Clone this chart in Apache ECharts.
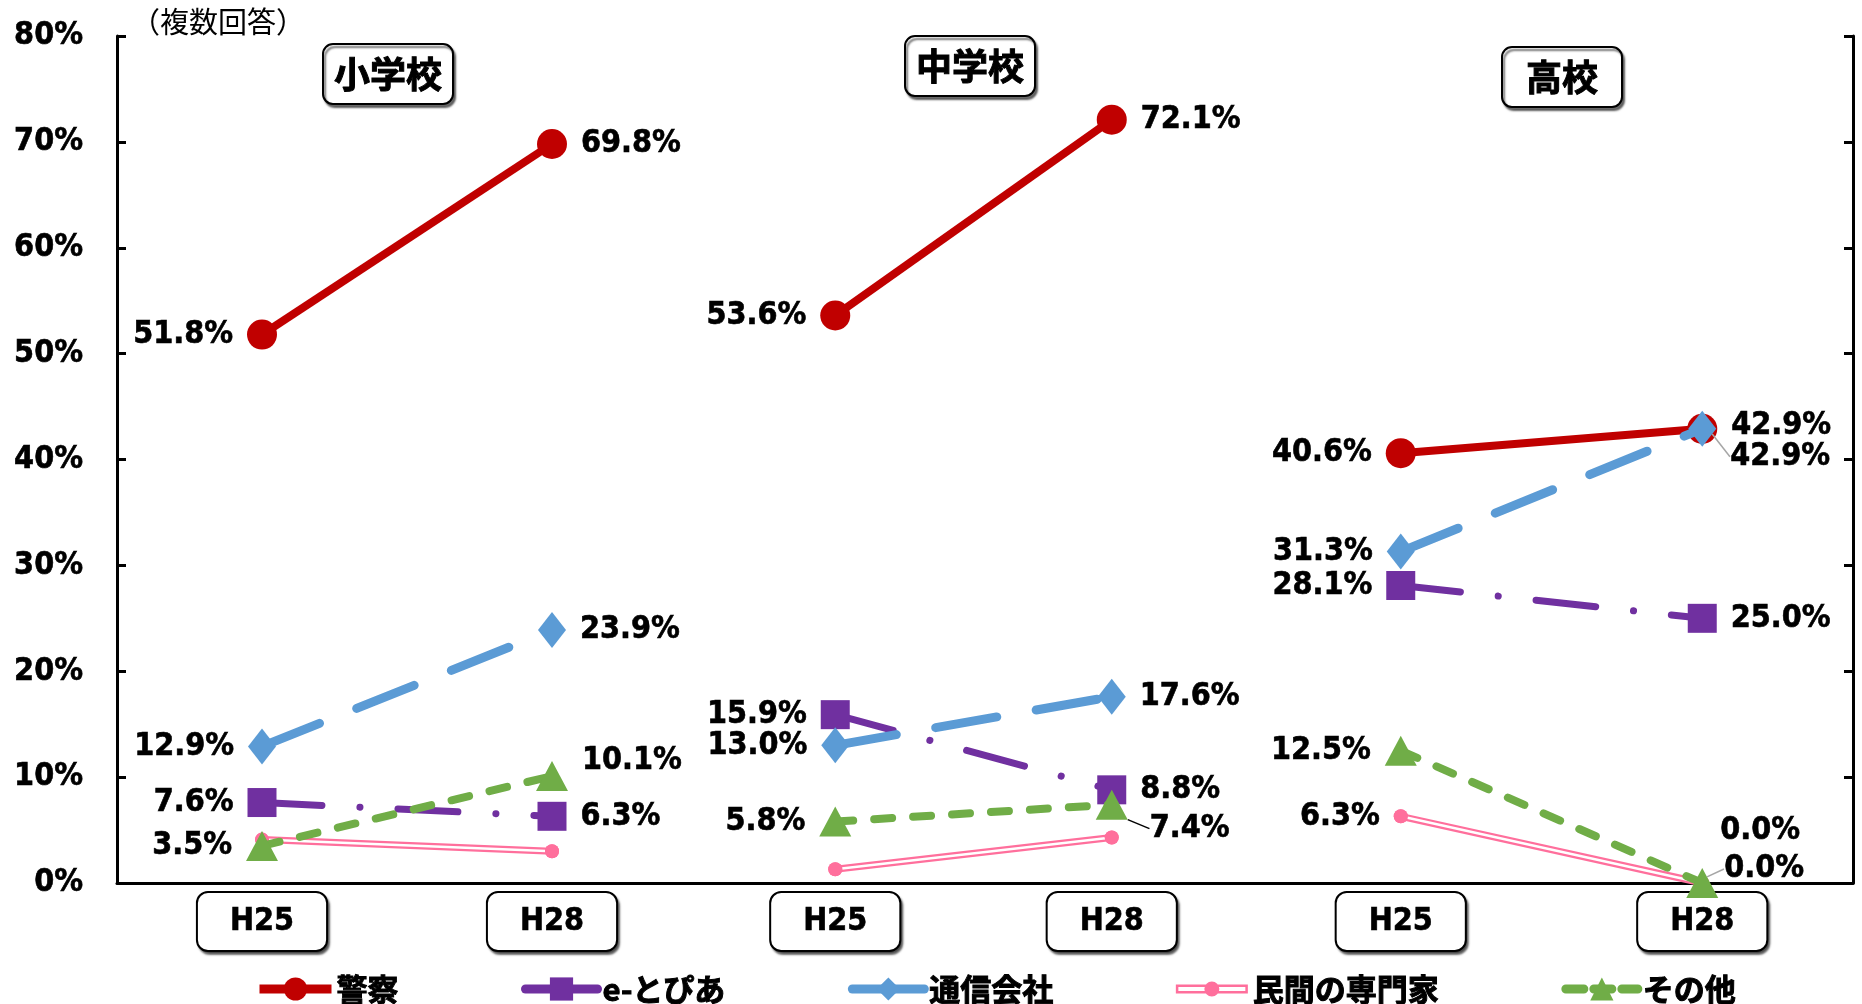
<!DOCTYPE html>
<html>
<head>
<meta charset="utf-8">
<script src="https://cdn.jsdelivr.net/npm/echarts@6/dist/echarts.min.js"></script>
<style>
  html, body { margin: 0; padding: 0; background: #fff; }
  #chart { width: 1862px; height: 1004px; }
</style>
</head>
<body>
<div id="chart"></div>
<script>
// データ（単位：%）
const categories = ['H25', 'H28'];
const schools = ['小学校', '中学校', '高校'];
const seriesNames = ['警察', 'e-とぴあ', '通信会社', '民間の専門家', 'その他'];
const police = [[51.8, 69.8], [53.6, 72.1], [40.6, 42.9]];
const etopia = [[7.6, 6.3], [15.9, 8.8], [28.1, 25.0]];
const telecom = [[12.9, 23.9], [13.0, 17.6], [31.3, 42.9]];
const expert = [[4.1, 3.0], [1.3, 4.3], [6.3, 0.0]];
const other = [[3.5, 10.1], [5.8, 7.4], [12.5, 0.0]];
const yTicks = [0, 10, 20, 30, 40, 50, 60, 70, 80];

const numFont = "'DejaVu Sans Condensed', 'DejaVu Sans', 'Noto Sans CJK JP', sans-serif";
const jpFont = "'Noto Sans CJK JP', sans-serif";
const colors = ['#C00000', '#7030A0', '#5B9BD5', '#FF6F9C', '#70AD47'];

// 3つのグラフ領域
const grids = [
  { left: 117, top: 36, width: 580, height: 847 },
  { left: 697, top: 36, width: 553, height: 847 },
  { left: 1250, top: 36, width: 603, height: 847 },
];

// ラベルの個別調整 [パネル]-[系列] -> H28側
const labelMoves = {
  '0-4': { dx: 0, dy: -15 },
  '1-4': { dx: 8, dy: 24, line: '#000' },
  '2-0': { dx: 0, dy: -3 },
  '2-2': { dx: 0, dy: 28, line: '#A6A6A6' },
  '2-3': { dx: -3, dy: -52, show: true },
  '2-4': { dx: -8, dy: -14, line: '#A6A6A6' },
};

const labelBase = {
  show: true,
  color: '#000',
  fontSize: 32,
  fontWeight: 'bold',
  fontFamily: numFont,
  textBorderColor: '#000',
  textBorderWidth: 0.6,
  distance: 14,
  formatter: (p) => p.value.toFixed(1) + '%',
};

function makeData(values, panel, si, showLabel) {
  const mv = labelMoves[panel + '-' + si];
  return values.map((v, i) => {
    const item = {
      value: v,
      label: { position: i === 0 ? 'left' : 'right', show: showLabel || (i === 1 && mv && mv.show) || false },
    };
    if (i === 1 && mv && mv.line) {
      item.labelLine = { show: true, lineStyle: { color: mv.line, width: 1.5 } };
    }
    return item;
  });
}

function layoutFor(panel, si) {
  return (params) => {
    const mv = labelMoves[panel + '-' + si];
    if (params.dataIndex === 1 && mv) {
      return { dx: mv.dx, dy: mv.dy };
    }
    return {};
  };
}

const styles = [
  { symbol: 'circle', symbolSize: 30, lineStyle: { width: 8 } },
  { symbol: 'rect', symbolSize: 29, lineStyle: { width: 7, type: [60, 38, 0.1, 38], cap: 'round' } },
  { symbol: 'diamond', symbolSize: [28, 36], lineStyle: { width: 9, type: [62, 40], cap: 'round' } },
  { symbol: 'circle', symbolSize: 14, lineStyle: { width: 7 } },
  { symbol: 'triangle', symbolSize: [32, 30], lineStyle: { width: 8, type: [18, 21], cap: 'round' } },
];

const allValues = [police, etopia, telecom, expert, other];

const series = [];
schools.forEach((s, panel) => {
  allValues.forEach((vals, si) => {
    const st = styles[si];
    series.push({
      name: seriesNames[si],
      type: 'line',
      xAxisIndex: panel,
      yAxisIndex: panel,
      data: makeData(vals[panel], panel, si, !(si === 3 && panel < 2)),
      symbol: st.symbol,
      symbolSize: st.symbolSize,
      itemStyle: { color: colors[si] },
      lineStyle: Object.assign({ color: colors[si] }, st.lineStyle),
      label: labelBase,
      labelLayout: layoutFor(panel, si),
      z: 2 + si,
    });
    if (si === 3) {
      // 二重線の内側（白）
      series.push({
        name: seriesNames[si] + '_inner',
        type: 'line',
        xAxisIndex: panel,
        yAxisIndex: panel,
        data: vals[panel],
        symbol: 'circle',
        symbolSize: 14,
        itemStyle: { color: colors[si] },
        lineStyle: { color: '#fff', width: 2.5 },
        label: { show: false },
        silent: true,
        z: 2 + si,
      });
    }
  });
});

const boxStyle = {
  backgroundColor: '#fff',
  borderColor: '#000',
  borderWidth: 2,
  borderRadius: 10,
  shadowColor: 'rgba(0,0,0,0.55)',
  shadowBlur: 2,
  shadowOffsetX: 2,
  shadowOffsetY: 3,
};

const titleBoxes = [
  { left: 323, top: 44, padding: [9, 11, 9, 11] },
  { left: 905, top: 36, padding: [9, 11, 9, 11] },
  { left: 1502, top: 47, padding: [9, 24, 9, 24] },
];

const chart = echarts.init(document.getElementById('chart'));
chart.setOption({
  animation: false,
  backgroundColor: '#fff',
  title: [
    {
      text: '（複数回答）',
      left: 126,
      top: 2,
      textStyle: { fontSize: 29, fontWeight: 'normal', fontFamily: jpFont, color: '#000' },
    },
  ].concat(schools.map((s, i) => Object.assign({
    text: s,
    left: titleBoxes[i].left,
    top: titleBoxes[i].top,
    padding: titleBoxes[i].padding,
    textStyle: {
      fontSize: 36, fontWeight: 'bold', fontFamily: jpFont, color: '#000', lineHeight: 42,
      textBorderColor: '#000', textBorderWidth: 1,
    },
  }, boxStyle))),
  legend: {
    data: seriesNames.map((n, i) => {
      if (i === 3) {
        return {
          name: n,
          icon: 'path://M0,4 H72 V13 H0 Z M2.5,6.5 V10.5 H69.5 V6.5 Z M28.5,8.5 A7.5,7.5 0 1,1 43.5,8.5 A7.5,7.5 0 1,1 28.5,8.5 Z',
          itemStyle: { color: colors[3], borderWidth: 0 },
        };
      }
      return { name: n, lineStyle: { type: i === 4 ? [18, 10] : 'solid', width: 9 } };
    }),
    left: 250,
    top: 968,
    itemWidth: 72,
    itemHeight: 29,
    itemGap: 122,
    textStyle: {
      fontSize: 31, fontWeight: 'bold', fontFamily: jpFont, color: '#000',
      textBorderColor: '#000', textBorderWidth: 1,
    },
    lineStyle: { width: 9 },
  },
  grid: grids,
  xAxis: grids.map((g, i) => ({
    type: 'category',
    gridIndex: i,
    data: categories,
    boundaryGap: true,
    axisLine: { show: true, lineStyle: { color: '#000', width: 3 } },
    axisTick: { show: false },
    axisLabel: Object.assign({
      margin: 10,
      fontSize: 32,
      fontWeight: 'bold',
      fontFamily: numFont,
      color: '#000',
      textBorderColor: '#000',
      textBorderWidth: 0.6,
      lineHeight: 39,
      padding: [9, 32, 9, 32],
    }, boxStyle),
  })),
  yAxis: grids.map((g, i) => ({
    type: 'value',
    gridIndex: i,
    min: yTicks[0],
    max: yTicks[yTicks.length - 1],
    interval: yTicks[1] - yTicks[0],
    position: i === 2 ? 'right' : 'left',
    show: i !== 1,
    axisLine: { show: true, lineStyle: { color: '#000', width: 3 } },
    axisTick: { show: true, inside: true, length: 9, lineStyle: { color: '#000', width: 3 } },
    axisLabel: {
      show: i === 0,
      margin: 34,
      fontSize: 32,
      fontWeight: 'bold',
      fontFamily: numFont,
      color: '#000',
      textBorderColor: '#000',
      textBorderWidth: 0.6,
      formatter: '{value}%',
    },
    splitLine: { show: false },
  })),
  series: series,
});
</script>
</body>
</html>
